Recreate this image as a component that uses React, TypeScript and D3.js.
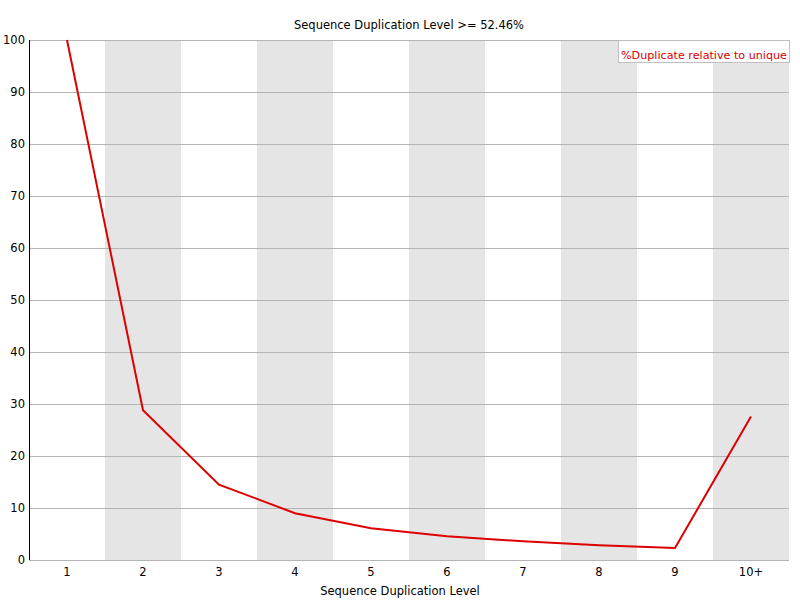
import { useEffect, useRef } from "react";
import * as d3 from "d3";

const categories = ["1", "2", "3", "4", "5", "6", "7", "8", "9", "10+"];
const duplicateRelative = [100, 28.8, 14.5, 9.0, 6.1, 4.55, 3.6, 2.85, 2.3, 27.6];
const yTicks = [0, 10, 20, 30, 40, 50, 60, 70, 80, 90, 100];

const titleText = "Sequence Duplication Level >= 52.46%";
const xAxisTitle = "Sequence Duplication Level";
const legendLabel = "%Duplicate relative to unique";

const WIDTH = 800;
const HEIGHT = 600;
const FONT = "DejaVu Sans, sans-serif";

export default function App() {
  const svgRef = useRef<SVGSVGElement>(null);

  useEffect(() => {
    if (!svgRef.current) return;
    const svg = d3.select(svgRef.current);
    svg.selectAll("*").remove();

    const margin = { top: 40, right: 11, bottom: 40, left: 29 };
    const width = WIDTH - margin.left - margin.right;
    const height = HEIGHT - margin.top - margin.bottom;

    const x = d3.scaleBand().domain(categories).range([0, width]);
    const y = d3.scaleLinear().domain([0, 100]).range([height, 0]);

    svg.append("rect").attr("width", WIDTH).attr("height", HEIGHT).attr("fill", "#ffffff");

    const g = svg
      .append("g")
      .attr("transform", `translate(${margin.left},${margin.top})`);

    // alternating background bands
    g.selectAll("rect.band")
      .data(categories.filter((_, i) => i % 2 === 1))
      .join("rect")
      .attr("class", "band")
      .attr("x", (d) => x(d)!)
      .attr("y", 0)
      .attr("width", x.bandwidth())
      .attr("height", height)
      .attr("fill", "#e5e5e5");

    // horizontal grid lines
    g.selectAll("line.grid")
      .data(yTicks)
      .join("line")
      .attr("class", "grid")
      .attr("x1", 0)
      .attr("x2", width)
      .attr("y1", (d) => Math.round(y(d)) + 0.5)
      .attr("y2", (d) => Math.round(y(d)) + 0.5)
      .attr("stroke", "#b4b4b4")
      .attr("stroke-width", 1);

    // y axis line
    g.append("line")
      .attr("x1", 0.5)
      .attr("x2", 0.5)
      .attr("y1", 0)
      .attr("y2", height)
      .attr("stroke", "#000")
      .attr("stroke-width", 1);

    // y tick labels
    g.selectAll("text.ytick")
      .data(yTicks)
      .join("text")
      .attr("class", "ytick")
      .attr("x", -4)
      .attr("y", (d) => y(d) + 4)
      .attr("text-anchor", "end")
      .attr("font-family", FONT)
      .attr("font-size", 11.5)
      .attr("fill", "#000")
      .text((d) => d);

    // x tick labels
    g.selectAll("text.xtick")
      .data(categories)
      .join("text")
      .attr("class", "xtick")
      .attr("x", (d) => x(d)! + x.bandwidth() / 2)
      .attr("y", height + 16)
      .attr("text-anchor", "middle")
      .attr("font-family", FONT)
      .attr("font-size", 11.5)
      .attr("fill", "#000")
      .text((d) => d);

    // line
    const line = d3
      .line<number>()
      .x((_, i) => x(categories[i])! + x.bandwidth() / 2)
      .y((d) => y(d));

    g.append("path")
      .datum(duplicateRelative)
      .attr("d", line)
      .attr("fill", "none")
      .attr("stroke", "#dd0000")
      .attr("stroke-width", 2)
      .attr("stroke-linejoin", "miter");

    // title
    svg
      .append("text")
      .attr("x", WIDTH / 2 + 9)
      .attr("y", 29)
      .attr("text-anchor", "middle")
      .attr("font-family", FONT)
      .attr("font-size", 11.5)
      .attr("fill", "#000")
      .text(titleText);

    // x axis title
    svg
      .append("text")
      .attr("x", WIDTH / 2)
      .attr("y", 595)
      .attr("text-anchor", "middle")
      .attr("font-family", FONT)
      .attr("font-size", 11.5)
      .attr("fill", "#000")
      .text(xAxisTitle);

    // legend
    const legend = svg.append("g");
    legend
      .append("rect")
      .attr("x", 618.5)
      .attr("y", 40.5)
      .attr("width", 171)
      .attr("height", 22)
      .attr("fill", "#ffffff")
      .attr("stroke", "#c0c0c0");
    legend
      .append("text")
      .attr("x", 621)
      .attr("y", 59)
      .attr("font-family", FONT)
      .attr("font-size", 11.2)
      .attr("textLength", 166)
      .attr("lengthAdjust", "spacingAndGlyphs")
      .attr("fill", "#dd0000")
      .text(legendLabel);
  }, []);

  return (
    <div style={{ position: "absolute", left: 0, top: 0, width: WIDTH, height: HEIGHT }}>
      <svg ref={svgRef} width={WIDTH} height={HEIGHT} style={{ display: "block" }} />
    </div>
  );
}
